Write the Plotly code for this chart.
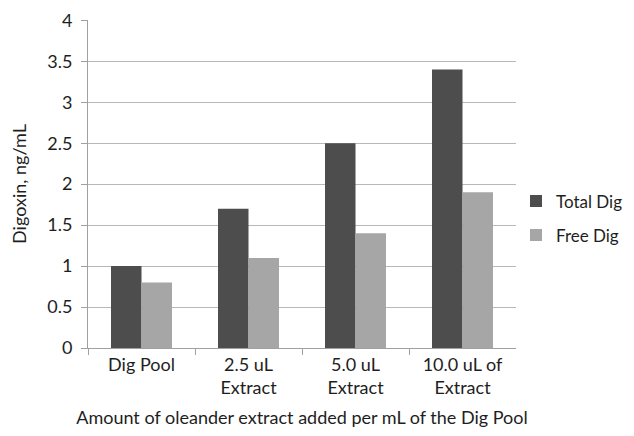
import plotly.graph_objects as go

categories = ["Dig Pool", "2.5 uL<br>Extract", "5.0 uL<br>Extract", "10.0 uL of<br>Extract"]
total_dig = [1.0, 1.7, 2.5, 3.4]
free_dig = [0.8, 1.1, 1.4, 1.9]
y_ticks = [0, 0.5, 1, 1.5, 2, 2.5, 3, 3.5, 4]
y_labels = ["0", "0.5", "1", "1.5", "2", "2.5", "3", "3.5", "4"]

font_family = "Lato, Open Sans, sans-serif"
txt = "#1e1e1e"

fig = go.Figure()
fig.add_trace(go.Bar(x=categories, y=total_dig, name="Total Dig", legendgroup="a",
                     marker=dict(color="#4d4d4d", line=dict(width=0))))
fig.add_trace(go.Bar(x=categories, y=free_dig, name="Free Dig", legendgroup="b",
                     marker=dict(color="#a6a6a6", line=dict(width=0))))

fig.update_layout(
    width=626, height=420,
    margin=dict(l=80, r=118, t=12, b=80),
    paper_bgcolor="white", plot_bgcolor="white",
    barmode="group", bargap=0.43, bargroupgap=0,
    font=dict(family=font_family, size=18, color=txt),
    legend=dict(xref="container", x=0.8115, y=0.395, xanchor="left", yanchor="middle",
                font=dict(size=17, color=txt), itemsizing="constant", itemwidth=30,
                tracegroupgap=9, bgcolor="rgba(0,0,0,0)"),
    showlegend=True,
)
fig.update_xaxes(
    automargin=False,
    showline=True, linecolor="#a0a0a0", linewidth=1,
    ticks="outside", tickson="boundaries", ticklen=6, tickcolor="#a0a0a0",
    showgrid=False,
    title=dict(text="Amount of oleander extract added per mL of the Dig Pool", standoff=16,
               font=dict(size=18)),
    tickfont=dict(size=18),
)
fig.update_yaxes(
    automargin=False,
    range=[0, 4.004], tickvals=y_ticks, ticktext=y_labels,
    showline=True, linecolor="#a0a0a0", linewidth=1,
    ticks="outside", ticklen=6, tickcolor="#a0a0a0", ticklabelstandoff=5,
    showgrid=True, gridcolor="#b8b8b8", gridwidth=1, zeroline=False,
    title=dict(text="Digoxin, ng/mL", standoff=22, font=dict(size=18)),
    tickfont=dict(size=18),
)

fig.write_html("out.html")
